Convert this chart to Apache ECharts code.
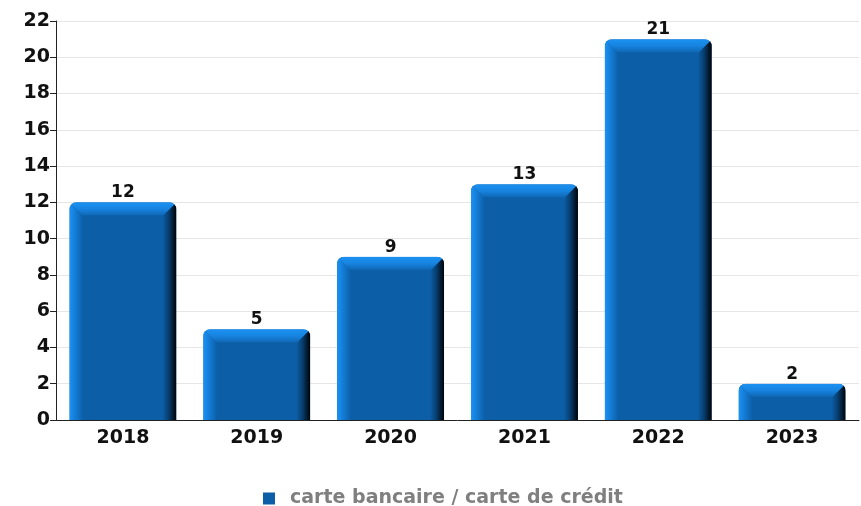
<!DOCTYPE html>
<html>
<head>
<meta charset="utf-8">
<script src="https://cdn.jsdelivr.net/npm/echarts@6/dist/echarts.min.js"></script>
<style>
  html, body { margin: 0; padding: 0; background: #fff; }
  #chart { width: 861px; height: 506px; }
</style>
</head>
<body>
<div id="chart"></div>
<script>
// data
var years = ['2018', '2019', '2020', '2021', '2022', '2023']
var counts = [12, 5, 9, 13, 21, 2]
var seriesName = 'carte bancaire / carte de crédit'

var chart = echarts.init(document.getElementById('chart'))

// bevelled bar, drawn from the axis scales
function renderBar(params, api) {
  var idx = api.value(0)
  var val = api.value(1)
  var top = api.coord([idx, val])
  var base = api.coord([idx, 0])
  var w = api.size([1, 0])[0] * 0.8
  var x0 = top[0] - w / 2
  var x1 = top[0] + w / 2
  var yt = top[1]
  var yb = base[1]
  var b = 13
  return {
    type: 'group',
    clipPath: {
      type: 'rect',
      shape: { x: x0, y: yt, width: w, height: yb - yt, r: [7, 7, 0, 0] }
    },
    children: [
      {
        type: 'rect',
        shape: { x: x0, y: yt, width: w, height: yb - yt },
        style: { fill: '#0c5ea6' }
      },
      {
        type: 'polygon',
        shape: { points: [[x0, yt], [x0 + b + 1, yt + b + 1], [x0 + b + 1, yb], [x0, yb]] },
        style: {
          fill: new echarts.graphic.LinearGradient(0, 0, 1, 0, [
            { offset: 0, color: '#1b93f5' },
            { offset: 0.35, color: '#1580dc' },
            { offset: 1, color: '#0c5ea6' }
          ])
        }
      },
      {
        type: 'polygon',
        shape: { points: [[x1, yt], [x1, yb], [x1 - b - 1, yb], [x1 - b - 1, yt + b + 1]] },
        style: {
          fill: new echarts.graphic.LinearGradient(0, 0, 1, 0, [
            { offset: 0, color: '#0c5ea6' },
            { offset: 0.45, color: '#073d6e' },
            { offset: 1, color: '#000205' }
          ])
        }
      },
      {
        type: 'polygon',
        shape: { points: [[x0, yt], [x1, yt], [x1 - b, yt + b], [x0 + b, yt + b]] },
        style: {
          fill: new echarts.graphic.LinearGradient(0, 0, 0, 1, [
            { offset: 0, color: '#1b91f2' },
            { offset: 0.5, color: '#1784e0' },
            { offset: 1, color: '#0f68b6' }
          ])
        }
      }
    ]
  }
}

// value labels above the bars
function renderLabel(params, api) {
  var idx = api.value(0)
  var val = api.value(1)
  var top = api.coord([idx, val])
  return {
    type: 'text',
    style: {
      text: String(val),
      x: top[0],
      y: top[1] - 1,
      textAlign: 'center',
      textVerticalAlign: 'bottom',
      font: 'bold 17px "DejaVu Sans"',
      fill: '#111'
    }
  }
}

var points = years.map(function(y, i) { return [i, counts[i]] })

chart.setOption({
  animation: false,
  grid: { left: 56, right: 2, top: 21, bottom: 86 },
  legend: {
    top: 484,
    left: 258,
    itemWidth: 12,
    itemHeight: 12,
    icon: 'rect',
    textStyle: {
      color: '#7f7f7f',
      fontSize: 19,
      fontWeight: 'bold',
      fontFamily: 'DejaVu Sans',
      padding: [0, 0, 0, 10]
    },
    data: [{ name: seriesName, itemStyle: { color: '#0c5ea6' } }]
  },
  xAxis: {
    type: 'category',
    data: years,
    axisLine: { lineStyle: { color: '#222', width: 1 } },
    axisTick: { length: 5, lineStyle: { color: '#222' } },
    axisLabel: {
      color: '#111',
      fontSize: 19,
      fontWeight: 'bold',
      fontFamily: 'DejaVu Sans',
      margin: 9
    }
  },
  yAxis: {
    type: 'value',
    min: 0,
    max: 22,
    interval: 2,
    axisLine: { show: true, lineStyle: { color: '#222', width: 1 } },
    axisTick: { show: true, length: 6, lineStyle: { color: '#222' } },
    axisLabel: {
      color: '#111',
      fontSize: 19,
      fontWeight: 'bold',
      fontFamily: 'DejaVu Sans',
      margin: 6
    },
    splitLine: { lineStyle: { color: '#e6e6e6' } }
  },
  series: [{
    name: seriesName,
    type: 'custom',
    renderItem: renderBar,
    itemStyle: { color: '#0c5ea6' },
    encode: { x: 0, y: 1 },
    data: points
  }, {
    type: 'custom',
    renderItem: renderLabel,
    encode: { x: 0, y: 1 },
    data: points
  }]
})
</script>
</body>
</html>
